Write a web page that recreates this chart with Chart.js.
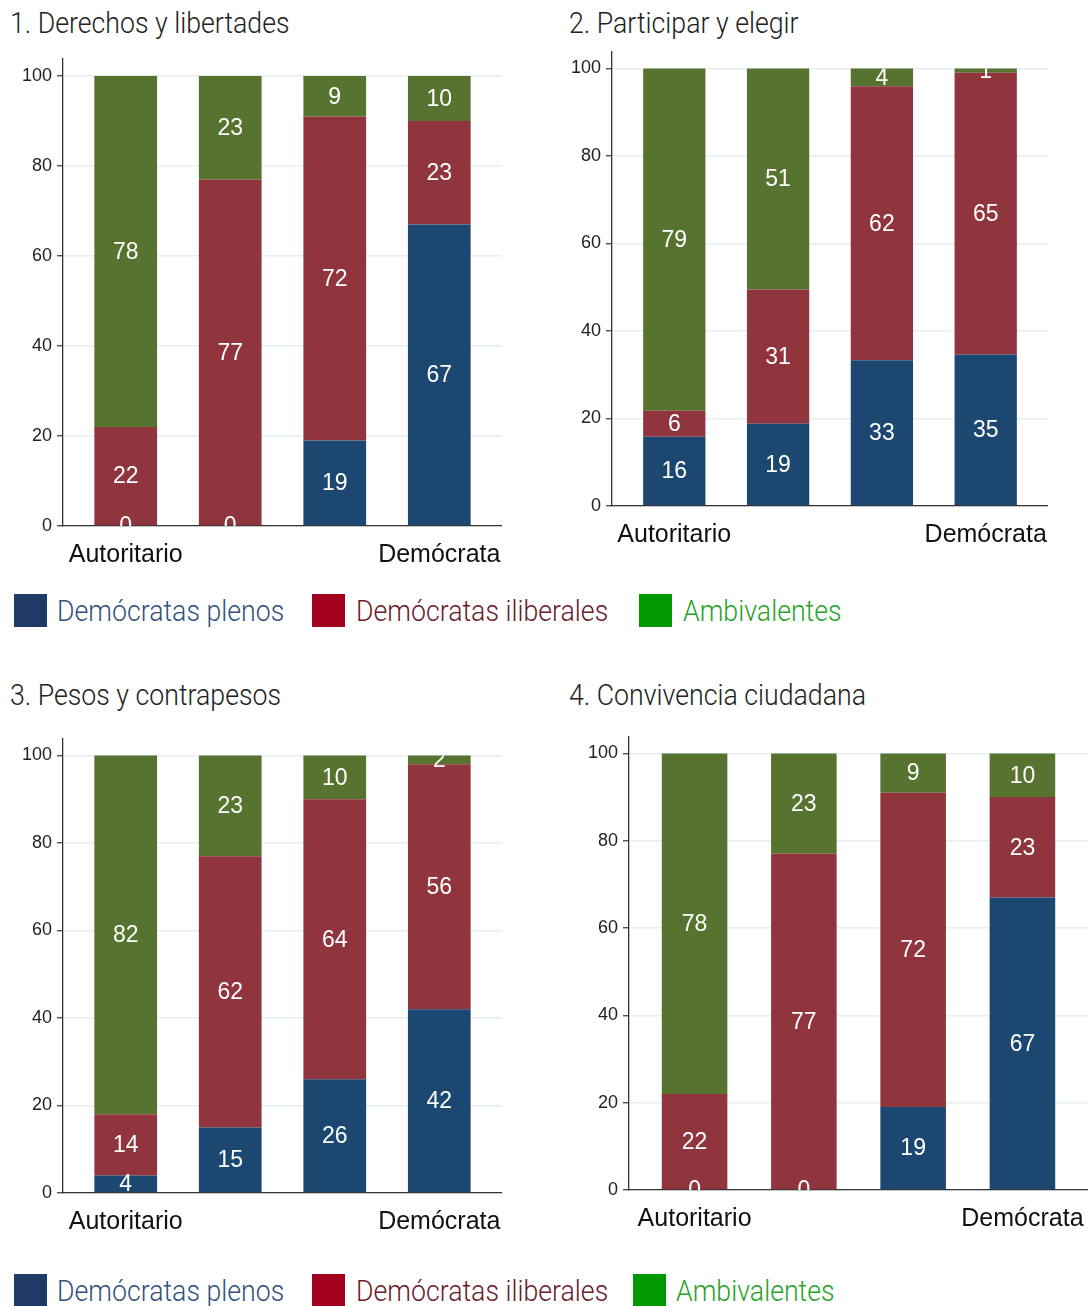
<!DOCTYPE html>
<html>
<head>
<meta charset="utf-8">
<script src="https://cdn.jsdelivr.net/npm/chart.js@4.4.1/dist/chart.umd.min.js"></script>
<style>
  html, body { margin: 0; padding: 0; background: #fff; }
  body { width: 1090px; height: 1306px; position: relative; overflow: hidden; }
  canvas { position: absolute; }
  .txt {
    position: absolute; white-space: nowrap;
    font-family: Roboto, "Noto Sans", sans-serif; font-weight: 300;
    font-size: 30px; line-height: 30px;
    transform: scaleX(0.89); transform-origin: left center;
  }
  .title { color: #222; }
  .sq { position: absolute; width: 33px; height: 33px; }
</style>
</head>
<body>
<div class="txt title" style="left:10px; top:8px">1. Derechos y libertades</div>
<div class="txt title" style="left:569px; top:8px">2. Participar y elegir</div>
<div class="txt title" style="left:10px; top:680px">3. Pesos y contrapesos</div>
<div class="txt title" style="left:569px; top:680px">4. Convivencia ciudadana</div>

<canvas id="c1"></canvas>
<canvas id="c2"></canvas>
<canvas id="c3"></canvas>
<canvas id="c4"></canvas>

<div id="legend1"></div>
<div id="legend2"></div>

<script>
// categories (only the two ends are labelled on the axis)
const categories = ['Autoritario', '', '', 'Demócrata'];
const seriesNames = ['Demócratas plenos', 'Demócratas iliberales', 'Ambivalentes'];
const yTicks = [0, 20, 40, 60, 80, 100];

// 1. Derechos y libertades
const plenos1 = [0, 0, 19, 67];
const iliberales1 = [22, 77, 72, 23];
const ambivalentes1 = [78, 23, 9, 10];

// 2. Participar y elegir
const plenos2 = [16, 19, 33, 35];
const iliberales2 = [6, 31, 62, 65];
const ambivalentes2 = [79, 51, 4, 1];

// 3. Pesos y contrapesos
const plenos3 = [4, 15, 26, 42];
const iliberales3 = [14, 62, 64, 56];
const ambivalentes3 = [82, 23, 10, 2];

// 4. Convivencia ciudadana
const plenos4 = [0, 0, 19, 67];
const iliberales4 = [22, 77, 72, 23];
const ambivalentes4 = [78, 23, 9, 10];

const barColors = ['#1c4770', '#90353e', '#56742f'];
const legendSquares = ['#1f3a66', '#a4001f', '#009a00'];
const legendText = ['#34507f', '#6d1a2c', '#27a327'];

const Y_W = 62;   // y axis box width
const X_H = 48;   // x axis box height
const Y_MAX = 104;

// position of each panel: y-axis x, zero line y, px per unit, bar spacing
const panels = [
    { id: 'c1', axisX: 62.7, zeroY: 526, ppu: 4.5, spacing: 104.6, series: [plenos1, iliberales1, ambivalentes1] },
    { id: 'c2', axisX: 611.7, zeroY: 506.7, ppu: 4.377, spacing: 103.8, series: [plenos2, iliberales2, ambivalentes2] },
    { id: 'c3', axisX: 62.7, zeroY: 1193, ppu: 4.375, spacing: 104.6, series: [plenos3, iliberales3, ambivalentes3] },
    { id: 'c4', axisX: 629.3, zeroY: 1190, ppu: 4.367, spacing: 109.2, series: [plenos4, iliberales4, ambivalentes4] }
];

// white counts in the middle of each segment, clipped to 0..100
const segmentLabels = {
    id: 'segmentLabels',
    afterDatasetsDraw(chart) {
        const { ctx, chartArea, scales } = chart;
        const top = scales.y.getPixelForValue(100);
        const bottom = scales.y.getPixelForValue(0);
        ctx.save();
        ctx.beginPath();
        ctx.rect(chartArea.left, top, chartArea.width, bottom - top);
        ctx.clip();
        ctx.fillStyle = '#ffffff';
        ctx.font = '23px "Liberation Sans", Arial, sans-serif';
        ctx.textAlign = 'center';
        ctx.textBaseline = 'middle';
        chart.data.datasets.forEach((ds, i) => {
            const meta = chart.getDatasetMeta(i);
            meta.data.forEach((bar, j) => {
                ctx.fillText(String(ds.counts[j]), bar.x, (bar.y + bar.base) / 2 + 1);
            });
        });
        ctx.restore();
    }
};

function buildChart(p) {
    const canvas = document.getElementById(p.id);
    const areaH = Y_MAX * p.ppu;
    const w = Y_W + 4.2 * p.spacing;
    canvas.width = Math.round(w);
    canvas.height = Math.round(areaH + X_H);
    canvas.style.left = (p.axisX - Y_W) + 'px';
    canvas.style.top = (p.zeroY - areaH) + 'px';

    // bars are drawn as shares of 100 (stacked to the full height)
    const totals = categories.map((c, j) => p.series.reduce((s, arr) => s + arr[j], 0));
    const datasets = p.series.map((arr, i) => ({
        label: seriesNames[i],
        data: arr.map((v, j) => ({ x: j + 1, y: v / totals[j] * 100 })),
        counts: arr,
        backgroundColor: barColors[i],
        borderWidth: 0,
        barPercentage: 0.6,
        categoryPercentage: 1
    }));

    return new Chart(canvas, {
        type: 'bar',
        data: { datasets: datasets },
        options: {
            responsive: false,
            animation: false,
            layout: { padding: 0 },
            plugins: { legend: { display: false }, tooltip: { enabled: false } },
            scales: {
                x: {
                    type: 'linear',
                    stacked: true,
                    offset: false,
                    min: 0.4,
                    max: 4.6,
                    grid: { display: false, offset: false },
                    border: { display: true, color: '#333', width: 1.3 },
                    afterBuildTicks: s => { s.ticks = [{ value: 1 }, { value: 4 }]; },
                    afterFit: s => { s.height = X_H; s.paddingLeft = 0; s.paddingRight = 0; },
                    ticks: {
                        autoSkip: false,
                        maxRotation: 0,
                        padding: 6,
                        color: '#111',
                        font: { family: '"Liberation Sans", Arial, sans-serif', size: 25 },
                        callback: v => categories[v - 1]
                    }
                },
                y: {
                    stacked: true,
                    min: 0,
                    max: Y_MAX,
                    afterBuildTicks: s => { s.ticks = yTicks.map(v => ({ value: v })); },
                    afterFit: s => { s.width = Y_W; s.paddingTop = 0; s.paddingBottom = 0; },
                    grid: {
                        color: '#e7eef2',
                        lineWidth: 1.5,
                        tickColor: '#333',
                        tickLength: 6,
                        tickWidth: 1.2
                    },
                    border: { display: true, color: '#333', width: 1.3 },
                    ticks: {
                        padding: 5,
                        color: '#222',
                        font: { family: '"Liberation Sans", Arial, sans-serif', size: 18 }
                    }
                }
            }
        },
        plugins: [segmentLabels]
    });
}

panels.forEach(buildChart);

// HTML legends under each row of panels
function buildLegend(id, top, squareX, textX) {
    const box = document.getElementById(id);
    seriesNames.forEach((name, i) => {
        const sq = document.createElement('div');
        sq.className = 'sq';
        sq.style.left = squareX[i] + 'px';
        sq.style.top = top + 'px';
        sq.style.background = legendSquares[i];
        box.appendChild(sq);

        const t = document.createElement('div');
        t.className = 'txt';
        t.textContent = name;
        t.style.left = textX[i] + 'px';
        t.style.top = (top + 2) + 'px';
        t.style.color = legendText[i];
        box.appendChild(t);
    });
}

buildLegend('legend1', 594, [14, 312, 639], [57, 356, 683]);
buildLegend('legend2', 1274, [14, 312, 633], [57, 356, 676]);
</script>
</body>
</html>
